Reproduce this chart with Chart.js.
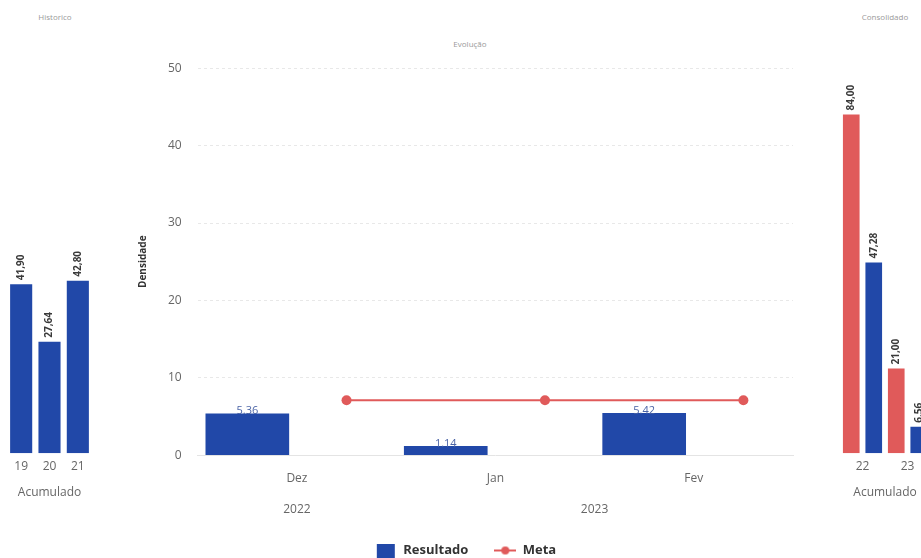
<!DOCTYPE html>
<html lang="pt-BR">
<head>
<meta charset="utf-8">
<title>Densidade</title>
<script src="https://cdn.jsdelivr.net/npm/chart.js@4.4.0/dist/chart.umd.min.js"></script>
<style>
    html, body { margin: 0; padding: 0; background: #fff; }
    body { width: 921px; height: 558px; overflow: hidden; position: relative; font-family: "Open Sans", sans-serif; }
    .box { position: absolute; }
    .ttl { position: absolute; font-size: 8px; color: #9a9a9a; white-space: nowrap; transform: translateX(-50%); }
</style>
</head>
<body>
<div class="ttl" style="left:55px;top:11px">Historico</div>
<div class="ttl" style="left:470px;top:38px">Evolução</div>
<div class="ttl" style="left:885px;top:11px">Consolidado</div>

<div class="box" style="left:7px;top:50px;width:85px;height:450px"><canvas id="chartHist"></canvas></div>
<div class="box" style="left:133px;top:45px;width:665px;height:522px"><canvas id="chartEvol"></canvas></div>
<div class="box" style="left:840px;top:50px;width:90px;height:450px"><canvas id="chartCons"></canvas></div>

<script>
// dados
const histLabels = ["19", "20", "21"];
const histResultado = [41.90, 27.64, 42.80];

const months = ["Dez", "Jan", "Fev"];
const resultado = [5.36, 1.14, 5.42];
const meta = [7.1, 7.1, 7.1];
const years = ["2022", "2023"];
const yearFirstMonth = [0, 1];
const yearLastMonth = [0, 2];
const densTicks = [0, 10, 20, 30, 40, 50];

const consLabels = ["22", "23"];
const consMeta = [84.00, 21.00];
const consResultado = [47.28, 6.56];

const BLUE = "#2148a8";
const RED = "#e05a5a";
const FONT = '"Open Sans", sans-serif';

const commaFmt = (v) => v.toFixed(2).replace(".", ",");

// rótulos verticais acima das barras (painéis laterais)
const rotatedLabels = {
    id: "rotatedLabels",
    afterDatasetsDraw(chart) {
        const ctx = chart.ctx;
        chart.data.datasets.forEach((ds, di) => {
            chart.getDatasetMeta(di).data.forEach((bar, i) => {
                ctx.save();
                ctx.translate(bar.x, bar.y - 4);
                ctx.rotate(-Math.PI / 2);
                ctx.font = "bold 10px " + FONT;
                ctx.fillStyle = "#3a3a3a";
                ctx.textAlign = "left";
                ctx.textBaseline = "middle";
                ctx.fillText(commaFmt(ds.data[i]), 0, 0);
                ctx.restore();
            });
        });
    },
};

// rótulos acima das barras do gráfico central
const barValueLabels = {
    id: "barValueLabels",
    afterDatasetsDraw(chart) {
        const ctx = chart.ctx;
        const meta0 = chart.getDatasetMeta(0);
        ctx.save();
        ctx.font = "11px " + FONT;
        ctx.fillStyle = "#4a63a6";
        ctx.textAlign = "center";
        ctx.textBaseline = "bottom";
        meta0.data.forEach((bar, i) => {
            ctx.fillText(resultado[i].toFixed(2), bar.x, bar.y + 3);
        });
        ctx.restore();
    },
};

function sideOptions() {
    return {
        responsive: true,
        maintainAspectRatio: false,
        animation: false,
        layout: { padding: 0 },
        plugins: { legend: { display: false }, tooltip: { enabled: false } },
        scales: {
            x: {
                grid: { display: false, drawTicks: false },
                border: { display: false },
                ticks: { color: "#666", font: { family: FONT, size: 12 }, padding: 6 },
                title: {
                    display: true,
                    text: "Acumulado",
                    color: "#666",
                    font: { family: FONT, size: 12 },
                    padding: { top: 6, bottom: 0 },
                },
            },
            y: { display: false, min: 0, max: 100 },
        },
    };
}

function legendIcon(kind, color) {
    const c = document.createElement("canvas");
    c.width = 22;
    c.height = 14;
    const g = c.getContext("2d");
    g.fillStyle = color;
    g.strokeStyle = color;
    if (kind === "rect") {
        g.fillRect(2, 0, 18, 14);
    } else {
        g.lineWidth = 2;
        g.beginPath();
        g.moveTo(0, 7);
        g.lineTo(22, 7);
        g.stroke();
        g.beginPath();
        g.arc(11, 7, 4, 0, Math.PI * 2);
        g.fill();
    }
    return c;
}

const legendIcons = [legendIcon("rect", BLUE), legendIcon("line", RED)];

new Chart(document.getElementById("chartHist"), {
    type: "bar",
    data: {
        labels: histLabels,
        datasets: [
            {
                label: "Resultado",
                data: histResultado,
                backgroundColor: BLUE,
                categoryPercentage: 1,
                barPercentage: 0.78,
            },
        ],
    },
    options: sideOptions(),
    plugins: [rotatedLabels],
});

new Chart(document.getElementById("chartCons"), {
    type: "bar",
    data: {
        labels: consLabels,
        datasets: [
            {
                label: "Meta",
                data: consMeta,
                backgroundColor: RED,
                categoryPercentage: 1,
                barPercentage: 0.74,
            },
            {
                label: "Resultado",
                data: consResultado,
                backgroundColor: BLUE,
                categoryPercentage: 1,
                barPercentage: 0.74,
            },
        ],
    },
    options: sideOptions(),
    plugins: [rotatedLabels],
});

new Chart(document.getElementById("chartEvol"), {
    data: {
        datasets: [
            {
                type: "bar",
                label: "Resultado",
                data: resultado.map((v, i) => ({ x: i - 0.25, y: v })),
                backgroundColor: BLUE,
                barThickness: 83,
            },
            {
                type: "line",
                label: "Meta",
                data: meta.map((v, i) => ({ x: i + 0.25, y: v })),
                borderColor: RED,
                backgroundColor: RED,
                borderWidth: 2,
                pointRadius: 5,
                pointBackgroundColor: RED,
                pointBorderWidth: 0,
            },
        ],
    },
    options: {
        responsive: true,
        maintainAspectRatio: false,
        animation: false,
        layout: { padding: 0 },
        plugins: {
            tooltip: { enabled: false },
            legend: {
                position: "bottom",
                labels: {
                    usePointStyle: true,
                    pointStyleWidth: 22,
                    boxHeight: 14,
                    padding: 26,
                    color: "#333",
                    font: { family: FONT, size: 13, weight: "bold" },
                    generateLabels(chart) {
                        const items = Chart.defaults.plugins.legend.labels.generateLabels(chart);
                        items.forEach((it) => { it.pointStyle = legendIcons[it.datasetIndex]; });
                        return items;
                    },
                },
            },
        },
        scales: {
            x: {
                type: "linear",
                offset: false,
                min: -0.5,
                max: months.length - 0.5,
                weight: 0,
                grid: { display: false, drawTicks: false },
                border: { color: "#e4e4e4" },
                afterBuildTicks(axis) { axis.ticks = months.map((m, i) => ({ value: i })); },
                ticks: {
                    color: "#666",
                    font: { family: FONT, size: 12 },
                    padding: 16,
                    callback: (v) => months[v],
                },
            },
            xYear: {
                type: "linear",
                position: "bottom",
                offset: false,
                min: -0.5,
                max: months.length - 0.5,
                weight: 1,
                grid: { display: false, drawTicks: false },
                border: { display: false },
                afterBuildTicks(axis) {
                    axis.ticks = years.map((y, i) => ({ value: (yearFirstMonth[i] + yearLastMonth[i]) / 2 }));
                },
                ticks: {
                    color: "#666",
                    font: { family: FONT, size: 12 },
                    padding: 1,
                    callback: (v, i) => years[i],
                },
            },
            y: {
                min: 0,
                max: 50,
                afterBuildTicks(axis) { axis.ticks = densTicks.map((v) => ({ value: v })); },
                grid: { color: "#e8e8e8", drawTicks: false },
                border: { display: false, dash: [3, 3] },
                ticks: { color: "#666", font: { family: FONT, size: 12 }, padding: 16 },
                title: {
                    display: true,
                    text: "Densidade",
                    color: "#333",
                    font: { family: FONT, size: 10, weight: "bold" },
                    padding: { top: 4, bottom: 3 },
                },
            },
        },
    },
    plugins: [barValueLabels],
});
</script>
</body>
</html>
